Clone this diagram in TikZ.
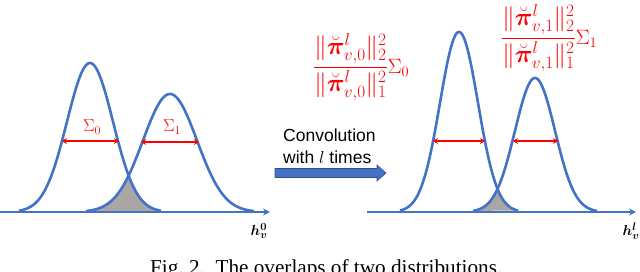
\documentclass[tikz,border=0pt]{standalone}
\usepackage{amsmath,bm}
\usepackage{fontspec}
\setmainfont{Liberation Serif}
\newfontfamily\arialfont{Liberation Sans}
\usetikzlibrary{arrows.meta}
\definecolor{curveblue}{RGB}{68,114,196}
\definecolor{arrowborder}{RGB}{47,82,143}
\definecolor{overlapgray}{RGB}{170,166,166}
\tikzset{
  curve/.style={curveblue, line width=2.6pt, line join=round},
  axisline/.style={curveblue, line width=1.8pt, -{Stealth[length=7pt,width=7pt]}},
  sigarrow/.style={red, line width=2pt, {Stealth[length=5pt,width=6pt]}-{Stealth[length=5pt,width=6pt]}},
  siglabel/.style={red, inner sep=0pt, font=\fontsize{17}{19}\selectfont},
  formula/.style={red, inner sep=0pt, anchor=west, font=\fontsize{27}{30}\selectfont},
  axlabel/.style={inner sep=0pt, font=\fontsize{15}{17}\selectfont},
  blockarrow/.style={fill=curveblue, draw=arrowborder, line width=0.6pt},
}
\newcommand{\smallsig}[1]{{\fontsize{21}{23}\selectfont$\Sigma_{#1}$}}
\begin{document}
\begin{tikzpicture}[x=1pt,y=-1pt]
\useasboundingbox (0,0) rectangle (640,272);
\fill[white] (0,0) rectangle (640,272);

% ---- left panel ----
\fill[overlapgray] plot[domain=86:128.6, samples=40, smooth] (\x,{212-118*exp(-(\x-170)*(\x-170)/1458)})
  -- plot[domain=128.6:161, samples=40, smooth] (\x,{212-149*exp(-(\x-90)*(\x-90)/1058)}) -- cycle;
\coordinate (axLs) at (0,212);
\coordinate (axLe) at (270,212);
\draw[axisline] (axLs) -- (axLe);
\draw[curve] plot[domain=19:161, samples=120, smooth] (\x,{212-149*exp(-(\x-90)*(\x-90)/1058)});
\draw[curve] plot[domain=86:254, samples=120, smooth] (\x,{212-118*exp(-(\x-170)*(\x-170)/1458)});
\coordinate (sL0a) at (62,141);
\coordinate (sL0b) at (119,141);
\coordinate (sL1a) at (141,142);
\coordinate (sL1b) at (199,142);
\draw[sigarrow] (sL0a) -- (sL0b);
\draw[sigarrow] (sL1a) -- (sL1b);
\node[siglabel] (lab0) at (92,127) {$\Sigma_0$};
\node[siglabel] (lab1) at (172,127) {$\Sigma_1$};
\node[axlabel] (hv0) at (259,231) {$\boldsymbol{h_v^0}$};

% ---- middle arrow ----
\node[anchor=west, align=left, inner sep=0pt, font=\arialfont\fontsize{17.5}{22}\selectfont] (conv) at (283,146) {Convolution\\with $l$ times};
\draw[blockarrow] (275,168.5) -- (377,168.5) -- (377,165) -- (386,173) -- (377,181) -- (377,177.5) -- (275,177.5) -- cycle;

% ---- right panel ----
\fill[overlapgray] plot[domain=473:497.5, samples=30, smooth] (\x,{212-134*exp(-(\x-535)*(\x-535)/800)})
  -- plot[domain=497.5:518, samples=30, smooth] (\x,{212-180*exp(-(\x-459)*(\x-459)/722)}) -- cycle;
\coordinate (axRs) at (367,212);
\coordinate (axRe) at (636,212);
\draw[axisline] (axRs) -- (axRe);
\draw[curve] plot[domain=400:518, samples=120, smooth] (\x,{212-180*exp(-(\x-459)*(\x-459)/722)});
\draw[curve] plot[domain=473:597, samples=120, smooth] (\x,{212-134*exp(-(\x-535)*(\x-535)/800)});
\coordinate (sR0a) at (433,141);
\coordinate (sR0b) at (485,141);
\coordinate (sR1a) at (513,141);
\coordinate (sR1b) at (558,141);
\draw[sigarrow] (sR0a) -- (sR0b);
\draw[sigarrow] (sR1a) -- (sR1b);
\node[axlabel] (hvl) at (631,231) {$\boldsymbol{h_v^l}$};

\node[formula] (f0) at (313,67) {$\displaystyle\frac{\|\breve{\boldsymbol{\pi}}^{l}_{v,0}\|_2^2}{\|\breve{\boldsymbol{\pi}}^{l}_{v,0}\|_1^2}$\smallsig{0}};
\node[formula] (f1) at (501,38) {$\displaystyle\frac{\|\breve{\boldsymbol{\pi}}^{l}_{v,1}\|_2^2}{\|\breve{\boldsymbol{\pi}}^{l}_{v,1}\|_1^2}$\smallsig{1}};

% ---- caption ----
\node[anchor=base west, inner sep=0pt, font=\fontsize{21.2}{24}\selectfont] (cap) at (150,275) {Fig.~2.\ \ The overlaps of two distributions.};
\end{tikzpicture}
\end{document}
